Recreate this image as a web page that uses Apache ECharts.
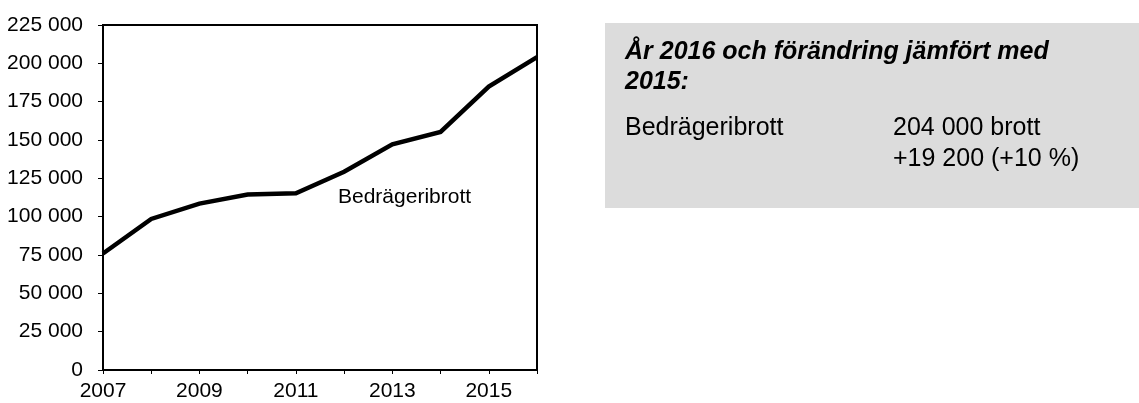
<!DOCTYPE html>
<html>
<head>
<meta charset="utf-8">
<script src="https://cdn.jsdelivr.net/npm/echarts@6/dist/echarts.min.js"></script>
<style>
  html, body { margin: 0; padding: 0; background: #fff; }
  #main { width: 1139px; height: 403px; }
</style>
</head>
<body>
<div id="main"></div>
<script>
// år och antal anmälda bedrägeribrott
const years = ['2007', '2008', '2009', '2010', '2011', '2012', '2013', '2014', '2015', '2016']
const fraud = [76000, 98500, 108500, 114500, 115300, 129300, 147200, 155300, 184800, 204000]
const seriesName = 'Bedrägeribrott'
const boxTitle = ['År 2016 och förändring jämfört med', '2015:']
const boxRow = ['Bedrägeribrott', '204 000 brott', '+19 200 (+10 %)']

const font = 'Liberation Sans, Arial, sans-serif'

function spaced (v) {
  return String(v).replace(/\B(?=(\d{3})+(?!\d))/g, ' ')
}

const option = {
  animation: false,
  backgroundColor: '#fff',
  textStyle: { fontFamily: font },
  grid: {
    left: 103,
    right: 602,
    top: 25,
    bottom: 33,
    show: true,
    borderColor: '#000',
    borderWidth: 2
  },
  xAxis: {
    type: 'category',
    data: years,
    boundaryGap: false,
    axisLine: { lineStyle: { color: '#000', width: 2 } },
    axisTick: { show: true, interval: 0, length: 4, lineStyle: { color: '#000' } },
    axisLabel: { interval: 1, color: '#000', fontSize: 21, margin: 11, fontFamily: font },
    splitLine: { show: false }
  },
  yAxis: {
    type: 'value',
    min: 0,
    max: 225000,
    interval: 25000,
    axisLine: { show: true, lineStyle: { color: '#000', width: 2 } },
    axisTick: { show: true, length: 5, lineStyle: { color: '#000' } },
    axisLabel: {
      color: '#000',
      fontSize: 21,
      margin: 20,
      fontFamily: font,
      formatter: function (v) { return spaced(v) }
    },
    splitLine: { show: false }
  },
  series: [
    {
      name: seriesName,
      type: 'line',
      data: fraud,
      symbol: 'none',
      lineStyle: { color: '#000', width: 4.5, join: 'miter' }
    }
  ],
  graphic: [
    {
      type: 'text',
      left: 338,
      top: 187,
      style: { text: seriesName, fill: '#000', font: '21px ' + font }
    },
    {
      type: 'rect',
      shape: { x: 605, y: 23, width: 534, height: 185 },
      style: { fill: '#dcdcdc' },
      z: 0
    },
    {
      type: 'text',
      left: 625,
      top: 37,
      style: {
        text: boxTitle.join('\n'),
        fill: '#000',
        font: 'italic bold 25px ' + font,
        lineHeight: 30
      },
      z: 1
    },
    {
      type: 'text',
      left: 625,
      top: 113,
      style: { text: boxRow[0], fill: '#000', font: '25px ' + font, lineHeight: 31 },
      z: 1
    },
    {
      type: 'text',
      left: 893,
      top: 113,
      style: {
        text: boxRow[1] + '\n' + boxRow[2],
        fill: '#000',
        font: '25px ' + font,
        lineHeight: 31
      },
      z: 1
    }
  ]
}

const chart = echarts.init(document.getElementById('main'))
chart.setOption(option)
</script>
</body>
</html>
